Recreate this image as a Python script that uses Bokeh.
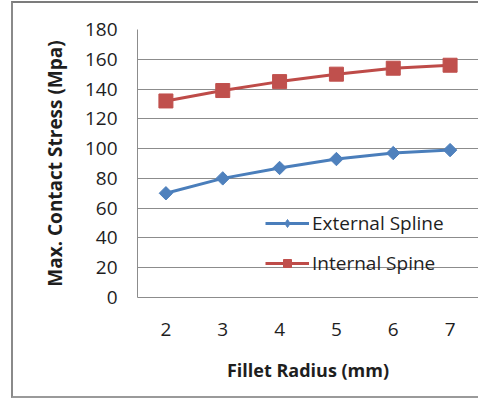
import math
from bokeh.plotting import figure
from bokeh.models import Range1d, FactorRange, Legend, LegendItem
from bokeh.embed import file_html
from bokeh.resources import INLINE

# ---- data ----
fillet_radius = ["2", "3", "4", "5", "6", "7"]
external_spline = [70, 80, 87, 93, 97, 99]
internal_spine = [132, 139, 145, 150, 154, 156]
y_ticks = [0, 20, 40, 60, 80, 100, 120, 140, 160, 180]

FONT = "Open Sans"
TXT = "#1e1e1e"
GRID = "#8c8c8c"
BLUE_LINE = "#4a7ebb"
BLUE_FILL = "#4f81bd"
RED_LINE = "#be4b48"
RED_FILL = "#c0504d"

p = figure(
    width=465, height=393,
    x_range=FactorRange(*fillet_radius, range_padding=0),
    y_range=Range1d(0, 180),
    output_backend="svg", toolbar_location=None,
    min_border_left=124, min_border_right=2,
    min_border_top=26, min_border_bottom=103,
)
# outer chart-area border (left, top, bottom visible; right side cropped)
p.styles = {
    "box-sizing": "content-box",
    "margin-left": "11px",
    "margin-top": "1px",
    "border-left": "2px solid #8a8a8a",
    "border-top": "2px solid #7c7c7c",
    "border-bottom": "2px solid #9a9a9a",
}
p.outline_line_color = None
p.background_fill_color = "white"
p.border_fill_color = "white"

# grid
p.xgrid.grid_line_color = None
p.ygrid.grid_line_color = GRID
p.ygrid.grid_line_width = 1
p.yaxis.ticker = y_ticks

# axes
for ax in (p.xaxis[0], p.yaxis[0]):
    ax.axis_line_color = GRID
    ax.axis_line_width = 1
    ax.major_tick_line_color = None
    ax.minor_tick_line_color = None
    ax.major_tick_out = 0
    ax.major_tick_in = 0
    ax.major_label_text_font = FONT
    ax.major_label_text_font_size = "19px"
    ax.major_label_text_color = TXT
    ax.axis_label_text_font = FONT
    ax.axis_label_text_font_style = "bold"
    ax.axis_label_text_color = TXT

p.xaxis.axis_label = "Fillet Radius (mm)"
p.xaxis.axis_label_text_font_size = "18px"
p.xaxis.major_label_standoff = 25
p.xaxis.axis_label_standoff = 19

p.yaxis.axis_label = "Max. Contact Stress (Mpa)"
p.yaxis.axis_label_text_font_size = "19px"
p.yaxis.major_label_standoff = 20
p.yaxis.axis_label_standoff = 14

# series
ext_line = p.line(fillet_radius, external_spline, line_color=BLUE_LINE, line_width=3)
ext_leg = p.scatter(fillet_radius, external_spline, marker="diamond", size=11,
                    fill_color=BLUE_FILL, line_color=BLUE_FILL)
p.scatter(fillet_radius, external_spline, marker="square", angle=math.pi / 4,
          size=9.5, fill_color=BLUE_FILL, line_color=BLUE_FILL)

int_line = p.line(fillet_radius, internal_spine, line_color=RED_LINE, line_width=3)
int_pts = p.scatter(fillet_radius, internal_spine, marker="square", size=14,
                    fill_color=RED_FILL, line_color=RED_FILL)

lg = Legend(items=[
    LegendItem(label="External Spline", renderers=[ext_line, ext_leg]),
    LegendItem(label="Internal Spine", renderers=[int_line, int_pts]),
])
lg.location = (128, 21)
lg.border_line_color = None
lg.background_fill_alpha = 0
lg.padding = 0
lg.margin = 0
lg.spacing = 14
lg.glyph_width = 44
lg.glyph_height = 20
lg.label_height = 20
lg.label_standoff = 3
lg.label_text_font = FONT
lg.label_text_font_size = "19px"
lg.label_text_color = TXT
p.add_layout(lg, "center")

open("out.html", "w").write(file_html(p, INLINE))
